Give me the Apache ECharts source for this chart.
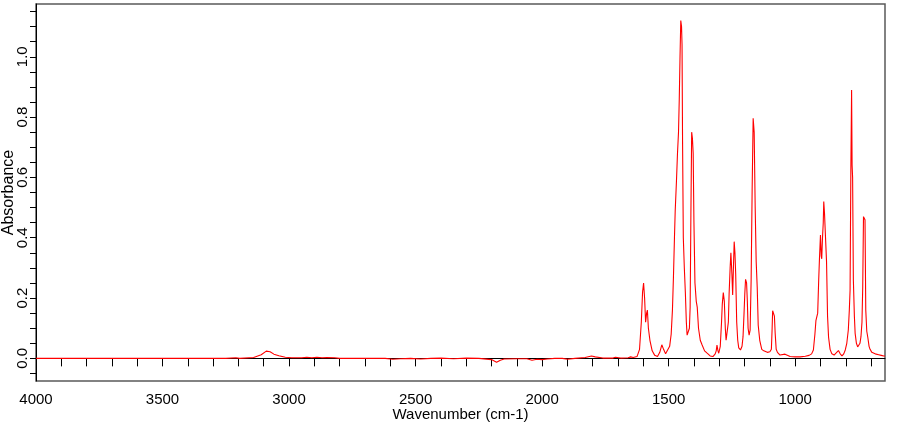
<!DOCTYPE html>
<html>
<head>
<meta charset="utf-8">
<script src="https://cdn.jsdelivr.net/npm/echarts@6/dist/echarts.min.js"></script>
<style>
html, body { margin: 0; padding: 0; background: #fff; }
#chart { width: 910px; height: 425px; }
</style>
</head>
<body>
<div id="chart"></div>
<script>
// spectrum (cm-1 / absorbance)
var wavenumber = [4000, 3800, 3600, 3400, 3250, 3210, 3195, 3140, 3110, 3090, 3075, 3060, 3040, 3015, 2990, 2950, 2930, 2910, 2890, 2870, 2850, 2820, 2800,
    2700, 2620, 2590, 2560, 2520, 2480, 2440, 2400, 2350, 2300, 2250, 2200, 2180, 2165, 2150, 2100, 2060, 2040, 2020, 2000, 1980, 1950, 1920, 1900,
    1870, 1830, 1805, 1790, 1760, 1720, 1710, 1690, 1660, 1650, 1640, 1625, 1615, 1608, 1603, 1599, 1595, 1591, 1587, 1584, 1580, 1574, 1565, 1555,
    1544, 1535, 1527, 1520, 1512, 1505, 1496, 1490, 1485, 1481, 1477, 1474, 1469, 1465, 1461, 1458, 1455, 1452, 1449, 1447, 1445, 1442, 1438, 1434,
    1430, 1427, 1422, 1418, 1415, 1412, 1409, 1406, 1403, 1400, 1396, 1391, 1387, 1382, 1375, 1368, 1358, 1349, 1336, 1325, 1316, 1312, 1309, 1305,
    1302, 1296, 1291, 1288, 1284, 1280, 1276, 1273, 1268, 1264, 1261, 1257, 1254, 1250, 1247, 1244, 1241, 1238, 1235, 1231, 1227, 1223, 1216, 1210,
    1206, 1202, 1199, 1196, 1192, 1189, 1186, 1182, 1178, 1174, 1170, 1166, 1162, 1158, 1154, 1150, 1146, 1140, 1132, 1124, 1110, 1100, 1094, 1091,
    1089, 1085, 1082, 1079, 1075, 1070, 1060, 1040, 1020, 1000, 980, 960, 945, 935, 928, 922, 918, 915, 911, 907, 904, 900, 897, 895, 892, 889, 887,
    884, 880, 876, 872, 868, 862, 855, 846, 838, 829, 822, 815, 808, 802, 796, 790, 786, 783, 780, 777, 775, 773, 770, 766, 763, 758, 753, 748, 744,
    740, 736, 733, 730, 727, 724, 721, 717, 713, 708, 704, 697, 690, 680, 670, 660, 650, 645];
var absorbance = [0.000, 0.000, 0.000, 0.000, 0.000, 0.002, 0.000, 0.003, 0.012, 0.024, 0.022, 0.014, 0.009, 0.004, 0.002, 0.002, 0.004, 0.002, 0.004, 0.002, 0.003, 0.002, 0.000,
    0.000, 0.000, -0.003, -0.001, 0.000, -0.002, 0.000, 0.001, -0.001, 0.001, 0.000, -0.004, -0.013, -0.006, -0.002, -0.001, -0.001, -0.006, -0.003, -0.004, -0.002, 0.000, 0.000, -0.003,
    0.000, 0.003, 0.008, 0.005, 0.001, 0.001, 0.004, 0.001, 0.002, 0.005, 0.003, 0.006, 0.030, 0.120, 0.220, 0.250, 0.200, 0.120, 0.150, 0.160, 0.100, 0.060, 0.025, 0.010,
    0.006, 0.020, 0.045, 0.030, 0.015, 0.017, 0.040, 0.080, 0.160, 0.270, 0.400, 0.490, 0.590, 0.680, 0.750, 0.860, 1.000, 1.120, 1.100, 1.040, 0.720, 0.400, 0.300, 0.220,
    0.120, 0.077, 0.072, 0.100, 0.170, 0.480, 0.750, 0.730, 0.680, 0.450, 0.250, 0.190, 0.170, 0.100, 0.060, 0.045, 0.025, 0.018, 0.008, 0.006, 0.015, 0.025, 0.044, 0.025,
    0.017, 0.040, 0.120, 0.180, 0.218, 0.190, 0.100, 0.060, 0.055, 0.120, 0.215, 0.300, 0.350, 0.280, 0.210, 0.300, 0.387, 0.350, 0.280, 0.120, 0.060, 0.035, 0.028, 0.040,
    0.072, 0.150, 0.215, 0.262, 0.250, 0.190, 0.100, 0.077, 0.094, 0.260, 0.560, 0.796, 0.750, 0.500, 0.320, 0.237, 0.110, 0.060, 0.030, 0.025, 0.020, 0.022, 0.030, 0.100,
    0.158, 0.155, 0.140, 0.083, 0.030, 0.020, 0.011, 0.014, 0.006, 0.005, 0.005, 0.007, 0.010, 0.015, 0.028, 0.080, 0.125, 0.130, 0.150, 0.260, 0.330, 0.409, 0.340, 0.330, 0.400, 0.450, 0.520,
    0.480, 0.400, 0.320, 0.140, 0.070, 0.030, 0.015, 0.011, 0.018, 0.026, 0.015, 0.008, 0.015, 0.028, 0.050, 0.094, 0.160, 0.226, 0.620, 0.890, 0.640, 0.600, 0.260, 0.140, 0.083, 0.050, 0.038, 0.044, 0.050,
    0.072, 0.120, 0.237, 0.470, 0.475, 0.460, 0.160, 0.090, 0.070, 0.040, 0.030, 0.020, 0.016, 0.014, 0.012, 0.010, 0.008, 0.008];

var xTicks = [4000, 3900, 3800, 3700, 3600, 3500, 3400, 3300, 3200, 3100, 3000, 2900, 2800, 2700, 2600, 2500, 2400, 2300, 2200, 2100, 2000,
    1900, 1800, 1700, 1600, 1500, 1400, 1300, 1200, 1100, 1000, 900, 800, 700];
var xLabels = [4000, 3500, 3000, 2500, 2000, 1500, 1000];
var yTicks = [-0.05, 0, 0.05, 0.1, 0.15, 0.2, 0.25, 0.3, 0.35, 0.4, 0.45, 0.5, 0.55, 0.6, 0.65, 0.7, 0.75, 0.8, 0.85, 0.9, 0.95, 1.0, 1.05, 1.1, 1.15];
var yLabels = [0, 0.2, 0.4, 0.6, 0.8, 1.0];

var spectrum = [];
for (var i = 0; i < wavenumber.length; i++) {
    spectrum.push([wavenumber[i], absorbance[i]]);
}

var font = "'Liberation Sans', Arial, sans-serif";

var chart = echarts.init(document.getElementById('chart'));
chart.setOption({
    animation: false,
    backgroundColor: '#fff',
    grid: {
        left: 36, right: 25, top: 4, bottom: 44,
        containLabel: false,
        outerBoundsMode: 'none',
        show: true,
        borderColor: '#5a5a5a',
        borderWidth: 1.5
    },
    xAxis: {
        type: 'value',
        inverse: true,
        min: 645,
        max: 4000,
        name: 'Wavenumber (cm-1)',
        nameLocation: 'middle',
        nameGap: 26,
        nameMoveOverlap: false,
        nameTextStyle: { color: '#000', fontFamily: font, fontSize: 15 },
        axisLine: { lineStyle: { color: '#000', width: 1 } },
        axisTick: { customValues: xTicks, length: 8, lineStyle: { color: '#000' } },
        axisLabel: {
            customValues: xLabels,
            margin: 11,
            color: '#000',
            fontFamily: font,
            fontSize: 15,
            formatter: function (v) { return String(v); }
        },
        splitLine: { show: false }
    },
    yAxis: {
        type: 'value',
        min: -0.075,
        max: 1.175,
        name: 'Absorbance',
        nameLocation: 'middle',
        nameRotate: 90,
        nameGap: 19,
        nameMoveOverlap: false,
        nameTextStyle: { color: '#000', fontFamily: font, fontSize: 16 },
        axisLine: { show: true, lineStyle: { color: '#000', width: 1 } },
        axisTick: { show: true, customValues: yTicks, length: 6, lineStyle: { color: '#000' } },
        axisLabel: {
            customValues: yLabels,
            rotate: 90,
            margin: 6,
            color: '#000',
            fontFamily: font,
            fontSize: 15,
            formatter: function (v) { return v.toFixed(1); }
        },
        splitLine: { show: false }
    },
    series: [{
        type: 'line',
        data: spectrum,
        showSymbol: false,
        symbol: 'none',
        lineStyle: { color: '#ff0000', width: 1.1 },
        silent: true
    }]
});
</script>
</body>
</html>
